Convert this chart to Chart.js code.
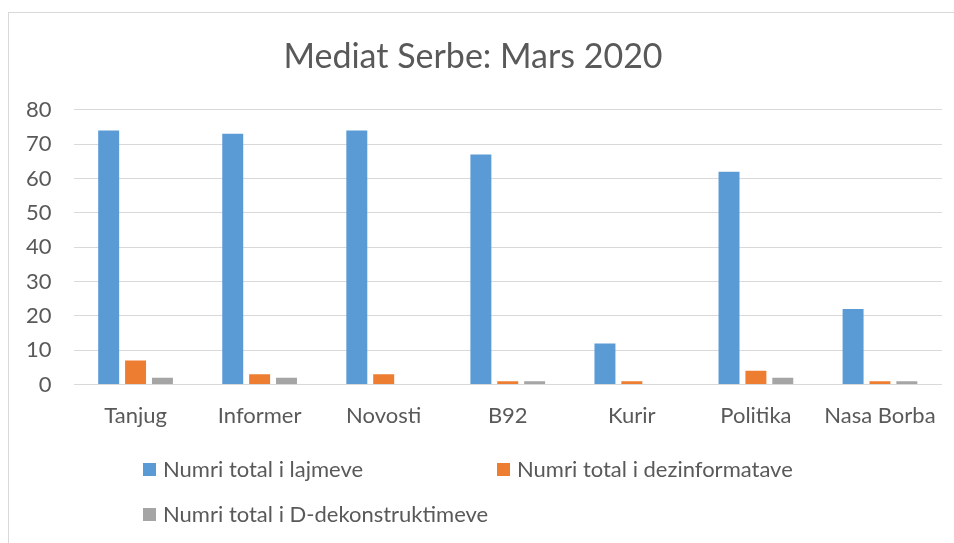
<!DOCTYPE html>
<html>
<head>
<meta charset="utf-8">
<script src="https://cdn.jsdelivr.net/npm/chart.js@4"></script>
<style>
  html, body { margin: 0; padding: 0; background: #fff; overflow: hidden; }
  #wrap { position: relative; width: 954px; height: 543px; }
  #frame { position: absolute; left: 8px; top: 12px; width: 960px; height: 560px; border: 1px solid #d9d9d9; box-sizing: border-box; }
  #chart { position: absolute; left: 0; top: 0; }
</style>
</head>
<body>
<div id="wrap">
  <div id="frame"></div>
  <canvas id="chart" width="954" height="543"></canvas>
</div>
<script>
  // ── Data ──
  var categories = ['Tanjug', 'Informer', 'Novosti', 'B92', 'Kurir', 'Politika', 'Nasa Borba'];
  var lajmeve = [74, 73, 74, 67, 12, 62, 22];
  var dezinformatave = [7, 3, 3, 1, 1, 4, 1];
  var dekonstruktimeve = [2, 2, 0, 1, 0, 2, 1];
  var seriesNames = ['Numri total i lajmeve', 'Numri total i dezinformatave', 'Numri total i D-dekonstruktimeve'];
  var yTicks = [0, 10, 20, 30, 40, 50, 60, 70, 80];

  var FONT = 'Lato, "Open Sans", sans-serif';
  var TEXT = '#595959';
  var GRID = '#d9d9d9';
  var COLORS = ['#5b9bd5', '#ed7d31', '#a5a5a5'];

  // ── Legend laid out in columns like the original ──
  var legendSlots = [
    { x: 143, y: 470 },
    { x: 497, y: 470 },
    { x: 143, y: 515 }
  ];
  var colLegend = {
    id: 'colLegend',
    afterDraw: function (chart) {
      var ctx = chart.ctx;
      ctx.save();
      ctx.font = '22px ' + FONT;
      ctx.textBaseline = 'middle';
      chart.data.datasets.forEach(function (ds, i) {
        var s = legendSlots[i];
        ctx.fillStyle = ds.backgroundColor;
        ctx.fillRect(s.x, s.y - 7, 13, 13);
        ctx.fillStyle = TEXT;
        ctx.fillText(ds.label, s.x + 20, s.y);
      });
      ctx.restore();
    }
  };

  var datasets = [lajmeve, dezinformatave, dekonstruktimeve].map(function (vals, i) {
    return {
      label: seriesNames[i],
      data: vals,
      backgroundColor: COLORS[i],
      barPercentage: 0.78,
      categoryPercentage: 0.65
    };
  });

  new Chart(document.getElementById('chart'), {
    type: 'bar',
    data: { labels: categories, datasets: datasets },
    plugins: [colLegend],
    options: {
      responsive: false,
      animation: false,
      layout: { padding: { top: 37, left: 4, right: 12, bottom: 104 } },
      plugins: {
        legend: { display: false },
        tooltip: { enabled: false },
        title: {
          display: true,
          text: 'Mediat Serbe: Mars 2020',
          color: TEXT,
          font: { family: FONT, size: 34, weight: 'normal' },
          padding: { top: 0, bottom: 32 }
        }
      },
      scales: {
        x: {
          grid: { display: false },
          border: { display: false },
          ticks: { color: TEXT, font: { family: FONT, size: 22 }, padding: 10, maxRotation: 0 }
        },
        y: {
          min: 0,
          max: 80,
          afterBuildTicks: function (axis) { axis.ticks = yTicks.map(function (v) { return { value: v }; }); },
          grid: { color: GRID, lineWidth: 1, drawTicks: false },
          border: { display: false },
          ticks: { color: TEXT, font: { family: FONT, size: 22 }, padding: 22 }
        }
      }
    }
  });
</script>
</body>
</html>
